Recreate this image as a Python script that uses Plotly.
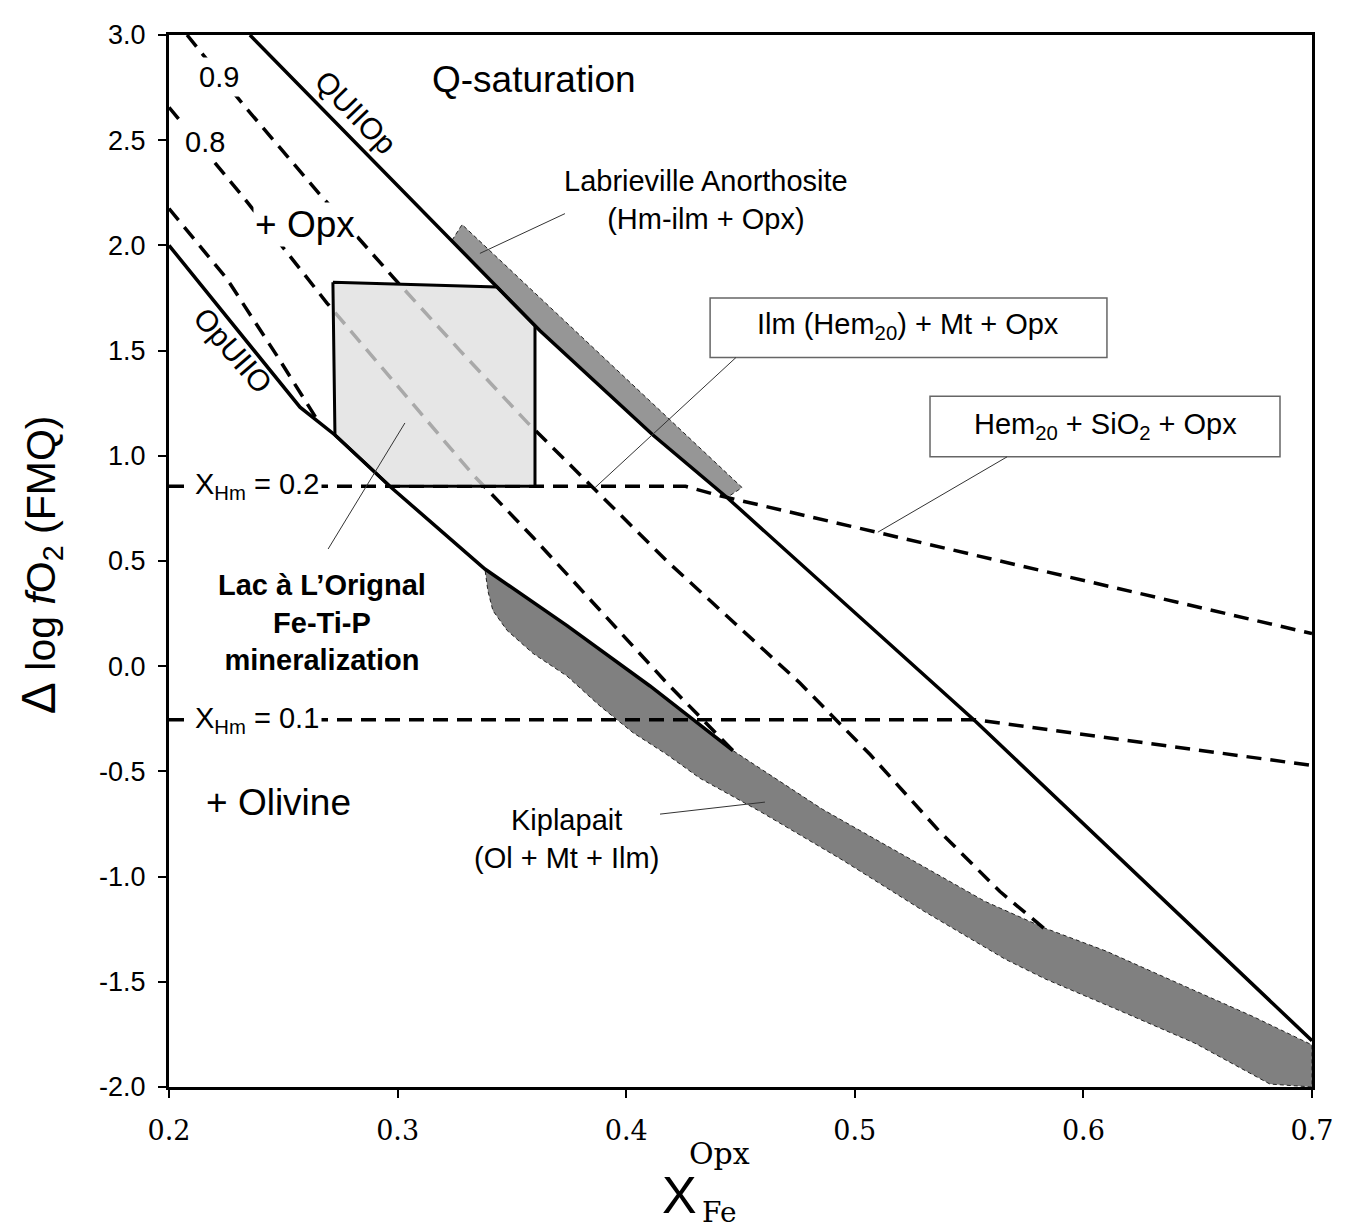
import plotly.graph_objects as go

# ---------------- data ----------------
x_ticks = [0.2, 0.3, 0.4, 0.5, 0.6, 0.7]
x_ticktext = ["0.2", "0.3", "0.4", "0.5", "0.6", "0.7"]
y_ticks = [3.0, 2.5, 2.0, 1.5, 1.0, 0.5, 0.0, -0.5, -1.0, -1.5, -2.0]
y_ticktext = ["3.0", "2.5", "2.0", "1.5", "1.0", "0.5", "0.0", "-0.5", "-1.0", "-1.5", "-2.0"]

# QUIIOp reaction (solid)
quiiop_x = [0.2354, 0.3435, 0.3623, 0.4117, 0.4441, 0.553, 0.7]
quiiop_y = [3.0, 1.802, 1.594, 1.099, 0.802, -0.264, -1.78]

# OpUIIO reaction (solid)
opuiio_x = [0.2, 0.2573, 0.2726, 0.2967, 0.3382, 0.3741, 0.4104, 0.4467]
opuiio_y = [2.0, 1.231, 1.099, 0.854, 0.462, 0.193, -0.094, -0.401]

# dashed isopleths
iso09_x = [0.2079, 0.2324, 0.2661, 0.298, 0.3273, 0.3566, 0.3885, 0.4178, 0.4476, 0.476, 0.5067, 0.5373, 0.5635, 0.5832]
iso09_y = [3.0, 2.670, 2.241, 1.849, 1.500, 1.160, 0.816, 0.500, 0.203, -0.080, -0.420, -0.788, -1.071, -1.25]
iso08_x = [0.2, 0.2324, 0.2691, 0.301, 0.333, 0.3592, 0.3885, 0.4178, 0.4467]
iso08_y = [2.656, 2.231, 1.726, 1.321, 0.910, 0.613, 0.264, -0.080, -0.401]
iso07_x = [0.2, 0.2254, 0.2472, 0.2652]
iso07_y = [2.175, 1.840, 1.476, 1.165]

# X_Hm isopleths
xhm02_x = [0.2, 0.426, 0.441, 0.7]
xhm02_y = [0.855, 0.855, 0.81, 0.155]
xhm01_x = [0.2, 0.553, 0.7]
xhm01_y = [-0.255, -0.255, -0.472]

# Lac a L'Orignal field
lac_x = [0.2717, 0.3435, 0.3601, 0.3601, 0.2967, 0.2726, 0.2717]
lac_y = [1.825, 1.802, 1.618, 0.855, 0.855, 1.099, 1.825]

# Labrieville Anorthosite field
lab_x = [0.3238, 0.3282, 0.4507, 0.4441, 0.4117, 0.3623, 0.3435, 0.3238]
lab_y = [2.024, 2.099, 0.849, 0.802, 1.099, 1.594, 1.802, 2.024]

# Kiplapait field
kip_upper_x = [0.3382, 0.3741, 0.4104, 0.4467, 0.4857, 0.5211, 0.557, 0.5832, 0.6099, 0.6458, 0.6742, 0.7]
kip_upper_y = [0.462, 0.193, -0.094, -0.401, -0.679, -0.896, -1.118, -1.245, -1.354, -1.528, -1.665, -1.80]
kip_lower_x = [0.3382, 0.3395, 0.3417, 0.3479, 0.3592, 0.3741, 0.3885, 0.403, 0.4178, 0.4323, 0.459,
               0.4944, 0.5303, 0.5657, 0.5832, 0.6178, 0.6488, 0.6672, 0.6816, 0.7]
kip_lower_y = [0.462, 0.358, 0.264, 0.170, 0.061, -0.047, -0.189, -0.316, -0.420, -0.533, -0.693,
               -0.920, -1.165, -1.392, -1.486, -1.646, -1.792, -1.901, -1.986, -2.0]

# ---------------- figure ----------------
fig = go.Figure()

THICK_DASH = "15px,9px"
THIN_DASH = "4px,3px"

fig.add_trace(go.Scatter(
    x=kip_upper_x + kip_lower_x[::-1], y=kip_upper_y + kip_lower_y[::-1],
    mode="lines", fill="toself", fillcolor="#808080",
    line=dict(color="#222222", width=1, dash=THIN_DASH), hoverinfo="skip"))

fig.add_trace(go.Scatter(
    x=lab_x, y=lab_y, mode="lines", fill="toself", fillcolor="#969696",
    line=dict(color="#222222", width=1, dash=THIN_DASH), hoverinfo="skip"))

for xs, ys in [(iso09_x, iso09_y), (iso08_x, iso08_y), (iso07_x, iso07_y),
               (xhm02_x, xhm02_y), (xhm01_x, xhm01_y)]:
    fig.add_trace(go.Scatter(x=xs, y=ys, mode="lines",
                             line=dict(color="black", width=3.5, dash=THICK_DASH),
                             hoverinfo="skip"))

fig.add_trace(go.Scatter(
    x=lac_x, y=lac_y, mode="lines", fill="toself", fillcolor="rgba(222,222,222,0.76)",
    line=dict(color="black", width=3), hoverinfo="skip"))

for xs, ys in [(quiiop_x, quiiop_y), (opuiio_x, opuiio_y)]:
    fig.add_trace(go.Scatter(x=xs, y=ys, mode="lines",
                             line=dict(color="black", width=3.5), hoverinfo="skip"))

# label boxes
shapes = [
    dict(type="rect", xref="x", yref="y", x0=0.4367, x1=0.6103, y0=1.467, y1=1.75,
         line=dict(color="#666666", width=1.5), fillcolor="white", layer="above"),
    dict(type="rect", xref="x", yref="y", x0=0.5329, x1=0.686, y0=0.995, y1=1.283,
         line=dict(color="#666666", width=1.5), fillcolor="white", layer="above"),
]
# pointer lines
for (x0, y0, x1, y1) in [(0.448, 1.467, 0.3864, 0.849),
                         (0.5666, 0.995, 0.5101, 0.637),
                         (0.3732, 2.151, 0.336, 1.962),
                         (0.3032, 1.156, 0.2696, 0.557),
                         (0.4148, -0.703, 0.4607, -0.646)]:
    shapes.append(dict(type="line", xref="x", yref="y", x0=x0, y0=y0, x1=x1, y1=y1,
                       line=dict(color="#333333", width=1), layer="above"))

F = "Liberation Sans"
ann = []

def add(text, x, y, size, angle=0, bg=None, xref="x", yref="y", family=F, pad=2):
    d = dict(text=text, x=x, y=y, xref=xref, yref=yref, showarrow=False,
             font=dict(family=family, size=size, color="black"), textangle=angle,
             xanchor="center", yanchor="middle")
    if bg:
        d["bgcolor"] = bg
        d["borderpad"] = pad
    ann.append(d)

add("Q-saturation", 0.3597, 2.788, 37)
add("QUIIOp", 0.2818, 2.632, 30, angle=46)
add("OpUIIO", 0.228, 1.50, 30, angle=49)
add("0.9", 0.2219, 2.802, 29, bg="white", pad=3)
add("0.8", 0.2157, 2.491, 29, bg="white", pad=3)
add("+ Opx", 0.2595, 2.099, 37, bg="white", pad=1)
add("+ Olivine", 0.2477, -0.646, 37)
add("Labrieville Anorthosite<br>(Hm-ilm + Opx)", 0.4349, 2.217, 29)
add("Ilm (Hem<sub>20</sub>) + Mt + Opx", 0.5233, 1.615, 29)
add("Hem<sub>20</sub> + SiO<sub>2</sub> + Opx", 0.6095, 1.14, 29)
add("X<sub>Hm</sub> = 0.2", 0.2385, 0.855, 29, bg="white")
add("X<sub>Hm</sub> = 0.1", 0.2385, -0.255, 29, bg="white")
add("<b>Lac à L’Orignal<br>Fe-Ti-P<br>mineralization</b>", 0.2669, 0.207, 29)
add("Kiplapait<br>(Ol + Mt + Ilm)", 0.3737, -0.82, 29)

# axis titles
add("<span style='font-size:48px'>Δ</span> log <i>f</i>O<sub>2</sub> (FMQ)", -0.1120, 0.497, 41,
    angle=-90, xref="paper", yref="paper")
add("X", 0.4462, -0.1028, 52, xref="paper", yref="paper")
add("Opx", 0.482, -0.0632, 30, xref="paper", yref="paper", family="DejaVu Serif")
add("Fe", 0.4812, -0.1189, 28, xref="paper", yref="paper", family="DejaVu Serif")

fig.update_layout(
    width=1351, height=1232,
    margin=dict(l=161, r=47, t=19, b=153),
    paper_bgcolor="white", plot_bgcolor="white",
    showlegend=False,
    font=dict(family=F, color="black"),
    shapes=shapes, annotations=ann,
)
fig.update_xaxes(range=[0.2, 0.7], tickvals=x_ticks, ticktext=x_ticktext,
                 showgrid=False, zeroline=False, showline=True, linecolor="black",
                 linewidth=3, mirror=True, ticks="outside", ticklen=8, tickwidth=2,
                 tickcolor="black", tickfont=dict(family="DejaVu Serif", size=27),
                 ticklabelstandoff=10)
fig.update_yaxes(range=[-2.0, 3.0], tickvals=y_ticks, ticktext=y_ticktext,
                 showgrid=False, zeroline=False, showline=True, linecolor="black",
                 linewidth=3, mirror=True, ticks="outside", ticklen=8, tickwidth=2,
                 tickcolor="black", tickfont=dict(family=F, size=27),
                 ticklabelstandoff=7)

fig.write_html("out.html")
